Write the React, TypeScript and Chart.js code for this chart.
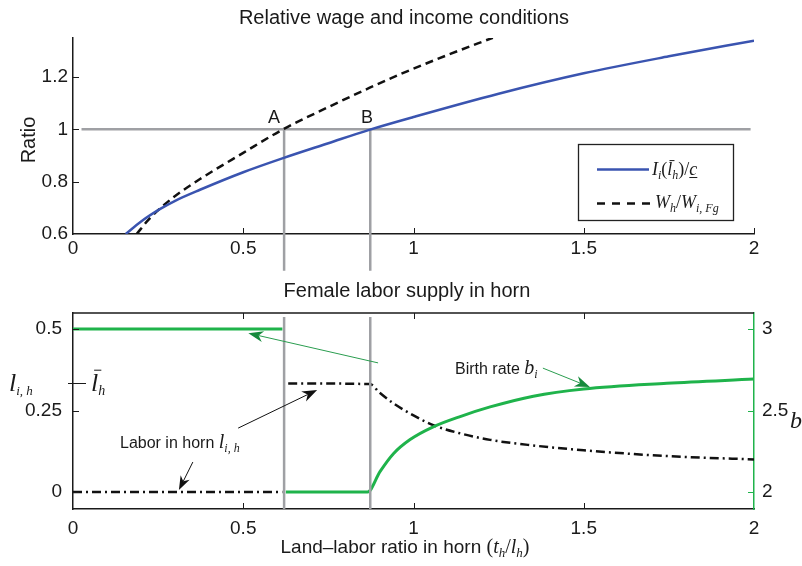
import React, { useEffect, useRef } from "react";
import { Chart, registerables } from "chart.js";

Chart.register(...registerables);

// ---------- data ----------
const X_TICKS = [0, 0.5, 1, 1.5, 2];
const TOP_Y_TICKS = [0.6, 0.8, 1, 1.2];
const LEFT_TICKS = [0, 0.25, 0.5];
const RIGHT_TICKS = [2, 2.5, 3];
const L_BAR = 0.333;

// I_i(l_h)/c  (blue, solid)
const INCOME_X = [0.155, 0.2, 0.255, 0.3, 0.373, 0.5, 0.617, 0.75, 0.87, 1.0, 1.25, 1.5, 1.75, 2.0];
const INCOME_Y = [0.6, 0.648, 0.695, 0.727, 0.769, 0.836, 0.89, 0.947, 0.998, 1.047, 1.136, 1.214, 1.279, 1.339];

// W_h / W_i,Fg  (black, dashed)
const WAGE_X = [0.187, 0.22, 0.255, 0.3, 0.373, 0.5, 0.617, 0.75, 0.87, 0.96, 1.1, 1.233];
const WAGE_Y = [0.6, 0.652, 0.697, 0.745, 0.81, 0.91, 1.0, 1.085, 1.158, 1.21, 1.284, 1.35];

// ratio = 1 reference line
const UNIT_X = [0.025, 1.99];
const UNIT_Y = [1, 1];

// thresholds A and B
const A_X = 0.62;
const B_X = 0.873;
const TOP_V_Y = [1, 0.46];
const BOT_V_Y = [0.537, -0.052];

// labor in horn l_i,h (left axis, dash-dot)
const LABOR_X = [0, 0.615, 0.62, 0.632, 0.872, 0.9, 0.941, 1.0, 1.058, 1.137, 1.225, 1.35, 1.5, 1.75, 2.0];
const LABOR_Y = [0, 0, null, 0.333, 0.331, 0.305, 0.272, 0.235, 0.205, 0.18, 0.16, 0.143, 0.128, 0.11, 0.1];

// birth rate b_i (right axis, green)
const BIRTH_X = [0, 0.615, 0.62, 0.625, 0.865, 0.9016, 0.941, 0.99, 1.058, 1.137, 1.225, 1.352, 1.5, 1.744, 2.0];
const BIRTH_Y = [3, 3, null, 2, 2, 2.125, 2.235, 2.322, 2.4, 2.463, 2.522, 2.588, 2.632, 2.667, 2.693];

// ---------- styles ----------
const SANS = '"Liberation Sans", Arial, Helvetica, sans-serif';
const SERIF = '"Liberation Serif", "Times New Roman", serif';
const BLUE = "#3a54b0";
const GRAY = "#9fa0a4";
const GREEN = "#1fb34b";
const DARK_GREEN = "#168a3c";
const INK = "#1a1a1a";

const zip = (xs: number[], ys: (number | null)[]) => xs.map((x, i) => ({ x, y: ys[i] }));

type Seg = { t: string; size: number; italic?: boolean; sans?: boolean; dy?: number; over?: boolean; under?: boolean };
const segFont = (s: Seg) => `${s.italic ? "italic " : ""}${s.size}px ${s.sans ? SANS : SERIF}`;

function drawRich(ctx: CanvasRenderingContext2D, x: number, y: number, segs: Seg[], align = "left") {
  ctx.save();
  ctx.textAlign = "left";
  ctx.textBaseline = "alphabetic";
  let total = 0;
  for (const s of segs) {
    ctx.font = segFont(s);
    total += ctx.measureText(s.t).width;
  }
  let cx = align === "center" ? x - total / 2 : x;
  for (const s of segs) {
    ctx.font = segFont(s);
    const w = ctx.measureText(s.t).width;
    const yy = y + (s.dy || 0);
    ctx.fillText(s.t, cx, yy);
    ctx.lineWidth = 1;
    if (s.over) {
      ctx.beginPath();
      ctx.moveTo(cx + s.size * 0.12, yy - s.size * 0.8);
      ctx.lineTo(cx + w + s.size * 0.12, yy - s.size * 0.8);
      ctx.stroke();
    }
    if (s.under) {
      ctx.beginPath();
      ctx.moveTo(cx, yy + s.size * 0.14);
      ctx.lineTo(cx + w, yy + s.size * 0.14);
      ctx.stroke();
    }
    cx += w;
  }
  ctx.restore();
}

function arrow(ctx: CanvasRenderingContext2D, x1: number, y1: number, x2: number, y2: number, lineColor: string, headColor: string, len = 14, half = 5.5) {
  const a = Math.atan2(y2 - y1, x2 - x1);
  const c = Math.cos(a), s = Math.sin(a);
  const pt = (back: number, side: number) => [x2 - c * back - s * side, y2 - s * back + c * side];
  ctx.save();
  ctx.strokeStyle = lineColor;
  ctx.lineWidth = 1;
  const base = pt(len * 0.7, 0);
  ctx.beginPath();
  ctx.moveTo(x1, y1);
  ctx.lineTo(base[0], base[1]);
  ctx.stroke();
  ctx.fillStyle = headColor;
  const p1 = pt(len, half), p2 = pt(len * 0.7, 0), p3 = pt(len, -half);
  ctx.beginPath();
  ctx.moveTo(x2, y2);
  ctx.lineTo(p1[0], p1[1]);
  ctx.lineTo(p2[0], p2[1]);
  ctx.lineTo(p3[0], p3[1]);
  ctx.closePath();
  ctx.fill();
  ctx.restore();
}

function line(ctx: CanvasRenderingContext2D, x1: number, y1: number, x2: number, y2: number) {
  ctx.beginPath();
  ctx.moveTo(x1, y1);
  ctx.lineTo(x2, y2);
  ctx.stroke();
}

const tickFont = { family: SANS, size: 19 };
const fmt = (v: any) => String(v);

// ---------- plugins ----------
const topDeco = {
  id: "topDeco",
  afterDraw(chart: any) {
    const ctx = chart.ctx as CanvasRenderingContext2D;
    const { left, bottom } = chart.chartArea;
    const xs = chart.scales.x, ys = chart.scales.y;
    ctx.save();
    ctx.strokeStyle = INK;
    ctx.lineWidth = 1;
    for (const v of X_TICKS.slice(1)) {
      const px = Math.round(xs.getPixelForValue(v)) + 0.5;
      line(ctx, px, bottom, px, bottom - 6);
    }
    for (const v of TOP_Y_TICKS.slice(1)) {
      const py = Math.round(ys.getPixelForValue(v)) + 0.5;
      line(ctx, left, py, left + 6, py);
    }
    ctx.fillStyle = INK;
    ctx.font = `20px ${SANS}`;
    ctx.textAlign = "center";
    ctx.textBaseline = "alphabetic";
    ctx.fillText("Relative wage and income conditions", 404, 24);
    ctx.font = `18px ${SANS}`;
    ctx.fillText("A", 274, 123);
    ctx.fillText("B", 367, 123);
    ctx.save();
    ctx.translate(29, 140);
    ctx.rotate(-Math.PI / 2);
    ctx.textBaseline = "middle";
    ctx.font = `20px ${SANS}`;
    ctx.fillText("Ratio", 0, 0);
    ctx.restore();

    // legend
    ctx.fillStyle = "#fff";
    ctx.fillRect(578, 144, 155, 76);
    ctx.strokeStyle = "#222";
    ctx.lineWidth = 1.3;
    ctx.strokeRect(578.5, 144.5, 155, 76);
    ctx.strokeStyle = BLUE;
    ctx.lineWidth = 2.5;
    line(ctx, 597, 169.5, 649, 169.5);
    ctx.strokeStyle = "#111";
    ctx.setLineDash([8, 7]);
    line(ctx, 597, 203.5, 652, 203.5);
    ctx.setLineDash([]);
    ctx.fillStyle = INK;
    ctx.strokeStyle = INK;
    drawRich(ctx, 652, 175, [
      { t: "I", size: 18, italic: true },
      { t: "i", size: 12, italic: true, dy: 4 },
      { t: "(", size: 18 },
      { t: "l", size: 18, italic: true, over: true },
      { t: "h", size: 12, italic: true, dy: 4 },
      { t: ")", size: 18 },
      { t: "/", size: 18 },
      { t: "c", size: 18, italic: true, under: true },
    ]);
    drawRich(ctx, 655, 208, [
      { t: "W", size: 18, italic: true },
      { t: "h", size: 12, italic: true, dy: 4 },
      { t: "/", size: 18 },
      { t: "W", size: 18, italic: true },
      { t: "i, Fg", size: 12, italic: true, dy: 4 },
    ]);
    ctx.restore();
  },
};

const bottomDeco = {
  id: "bottomDeco",
  afterDraw(chart: any) {
    const ctx = chart.ctx as CanvasRenderingContext2D;
    const { left, right, top, bottom } = chart.chartArea;
    const xs = chart.scales.x, yl = chart.scales.yL, yr = chart.scales.yR;
    ctx.save();
    // top border of box
    ctx.strokeStyle = INK;
    ctx.lineWidth = 1.5;
    line(ctx, left - 0.75, top, right, top);
    // inward ticks
    ctx.lineWidth = 1;
    for (const v of X_TICKS.slice(1, -1)) {
      const px = Math.round(xs.getPixelForValue(v)) + 0.5;
      line(ctx, px, bottom, px, bottom - 6);
      line(ctx, px, top, px, top + 6);
    }
    for (const v of LEFT_TICKS) {
      const py = Math.round(yl.getPixelForValue(v)) + 0.5;
      line(ctx, left, py, left + 6, py);
    }
    const pyBar = Math.round(yl.getPixelForValue(L_BAR)) + 0.5;
    line(ctx, 68, pyBar, 86, pyBar);
    ctx.strokeStyle = GREEN;
    for (const v of RIGHT_TICKS) {
      const py = Math.round(yr.getPixelForValue(v)) + 0.5;
      line(ctx, right, py, right - 6, py);
    }

    // arrows (data coordinates on left axis)
    const P = (x: number, y: number) => [xs.getPixelForValue(x), yl.getPixelForValue(y)];
    const a1 = P(0.896, 0.396), t1 = P(0.515, 0.487);
    arrow(ctx, a1[0], a1[1], t1[0], t1[1], "#2a9d4f", DARK_GREEN, 15, 5.5);
    const a2 = P(0.485, 0.196), t2 = P(0.717, 0.313);
    arrow(ctx, a2[0], a2[1], t2[0], t2[1], "#111", "#111", 15, 5.5);
    const a3 = P(0.352, 0.092), t3 = P(0.311, 0.006);
    arrow(ctx, a3[0], a3[1], t3[0], t3[1], "#111", "#111", 14, 5);
    const a4 = P(1.38, 0.38), t4 = P(1.518, 0.322);
    arrow(ctx, a4[0], a4[1], t4[0], t4[1], "#2a9d4f", DARK_GREEN, 15, 5.5);

    // texts
    ctx.fillStyle = INK;
    ctx.strokeStyle = INK;
    ctx.font = `20px ${SANS}`;
    ctx.textAlign = "center";
    ctx.textBaseline = "alphabetic";
    ctx.fillText("Female labor supply in horn", 407, 22);

    drawRich(ctx, 405, 278, [
      { t: "Land\u2013labor ratio in horn ", size: 19, sans: true },
      { t: "(", size: 20 },
      { t: "t", size: 20, italic: true },
      { t: "h", size: 13, italic: true, dy: 4 },
      { t: "/", size: 20 },
      { t: "l", size: 20, italic: true },
      { t: "h", size: 13, italic: true, dy: 4 },
      { t: ")", size: 20 },
    ], "center");

    drawRich(ctx, 9, 116, [
      { t: "l", size: 26, italic: true },
      { t: "i, h", size: 13, italic: true, dy: 4 },
    ]);
    drawRich(ctx, 91, 116, [
      { t: "l", size: 26, italic: true, over: true },
      { t: "h", size: 14, italic: true, dy: 4 },
    ]);
    drawRich(ctx, 120, 173, [
      { t: "Labor in horn ", size: 16, sans: true },
      { t: "l", size: 20, italic: true },
      { t: "i, h", size: 12, italic: true, dy: 4 },
    ]);
    drawRich(ctx, 455, 99, [
      { t: "Birth rate ", size: 16, sans: true },
      { t: "b", size: 20, italic: true },
      { t: "i", size: 12, italic: true, dy: 4 },
    ]);
    drawRich(ctx, 790, 153, [
      { t: "b", size: 24, italic: true },
      { t: "i", size: 14, italic: true, dy: 5 },
    ]);
    ctx.restore();
  },
};

export default function App() {
  const topRef = useRef<HTMLCanvasElement>(null);
  const botRef = useRef<HTMLCanvasElement>(null);

  useEffect(() => {
    const xScale = (h: number, pad: number) => ({
      type: "linear",
      min: 0,
      max: 2,
      afterBuildTicks: (s: any) => { s.ticks = X_TICKS.map((v) => ({ value: v })); },
      afterFit: (s: any) => { s.height = h; },
      grid: { display: false, drawTicks: false },
      border: { display: true, color: INK, width: 1.5 },
      ticks: { padding: pad, color: INK, font: tickFont, maxRotation: 0, autoSkip: false, callback: fmt },
    });

    const top = new Chart(topRef.current as HTMLCanvasElement, {
      type: "line",
      data: {
        datasets: [
          { data: zip(INCOME_X, INCOME_Y), borderColor: BLUE, borderWidth: 2.5, pointRadius: 0, cubicInterpolationMode: "monotone" },
          { data: zip(WAGE_X, WAGE_Y), borderColor: "#111", borderWidth: 2.5, borderDash: [8, 5], pointRadius: 0, cubicInterpolationMode: "monotone" },
          { data: zip(UNIT_X, UNIT_Y), borderColor: GRAY, borderWidth: 2.5, pointRadius: 0 },
          { data: zip([A_X, A_X], TOP_V_Y), borderColor: GRAY, borderWidth: 2.5, pointRadius: 0, clip: false },
          { data: zip([B_X, B_X], TOP_V_Y), borderColor: GRAY, borderWidth: 2.5, pointRadius: 0, clip: false },
        ],
      } as any,
      options: {
        responsive: false,
        animation: false,
        events: [],
        layout: { padding: { left: 0, right: 48, top: 38, bottom: 0 } },
        plugins: { legend: { display: false }, tooltip: { enabled: false }, title: { display: false } },
        scales: {
          x: xScale(41, 3),
          y: {
            type: "linear",
            min: 0.6,
            max: 1.349,
            afterBuildTicks: (s: any) => { s.ticks = TOP_Y_TICKS.map((v) => ({ value: v })); },
            afterFit: (s: any) => { s.width = 73; },
            grid: { display: false, drawTicks: false },
            border: { display: true, color: INK, width: 1.5 },
            ticks: { padding: 5, color: INK, font: tickFont, callback: fmt },
          },
        },
      } as any,
      plugins: [topDeco],
    });

    const bot = new Chart(botRef.current as HTMLCanvasElement, {
      type: "line",
      data: {
        datasets: [
          { data: zip([A_X, A_X], BOT_V_Y), yAxisID: "yL", borderColor: GRAY, borderWidth: 2.5, pointRadius: 0, clip: false },
          { data: zip([B_X, B_X], BOT_V_Y), yAxisID: "yL", borderColor: GRAY, borderWidth: 2.5, pointRadius: 0, clip: false },
          { data: zip(BIRTH_X, BIRTH_Y), yAxisID: "yR", borderColor: GREEN, borderWidth: 3, pointRadius: 0, cubicInterpolationMode: "monotone", spanGaps: false },
          { data: zip(LABOR_X, LABOR_Y), yAxisID: "yL", borderColor: "#111", borderWidth: 2.5, borderDash: [9, 4, 2, 4], pointRadius: 0, cubicInterpolationMode: "monotone", spanGaps: false },
        ],
      } as any,
      options: {
        responsive: false,
        animation: false,
        events: [],
        layout: { padding: { left: 0, right: 0, top: 38, bottom: 0 } },
        plugins: { legend: { display: false }, tooltip: { enabled: false }, title: { display: false } },
        scales: {
          x: xScale(57, 8),
          yL: {
            type: "linear",
            position: "left",
            min: -0.052,
            max: 0.549,
            afterBuildTicks: (s: any) => { s.ticks = LEFT_TICKS.map((v) => ({ value: v })); },
            afterFit: (s: any) => { s.width = 73; },
            grid: { display: false, drawTicks: false },
            border: { display: true, color: INK, width: 1.5 },
            ticks: { padding: 11, color: INK, font: tickFont, callback: fmt },
          },
          yR: {
            type: "linear",
            position: "right",
            min: 1.896,
            max: 3.098,
            afterBuildTicks: (s: any) => { s.ticks = RIGHT_TICKS.map((v) => ({ value: v })); },
            afterFit: (s: any) => { s.width = 48; },
            grid: { display: false, drawTicks: false },
            border: { display: true, color: GREEN, width: 1.5 },
            ticks: { padding: 8, color: INK, font: tickFont, callback: fmt },
          },
        },
      } as any,
      plugins: [bottomDeco],
    });

    return () => {
      top.destroy();
      bot.destroy();
    };
  }, []);

  return (
    <div style={{ position: "absolute", left: 0, top: 0, width: 802, height: 566, background: "#fff" }}>
      <canvas ref={topRef} width={802} height={275} style={{ position: "absolute", left: 0, top: 0, display: "block" }} />
      <canvas ref={botRef} width={802} height={291} style={{ position: "absolute", left: 0, top: 275, display: "block" }} />
    </div>
  );
}
